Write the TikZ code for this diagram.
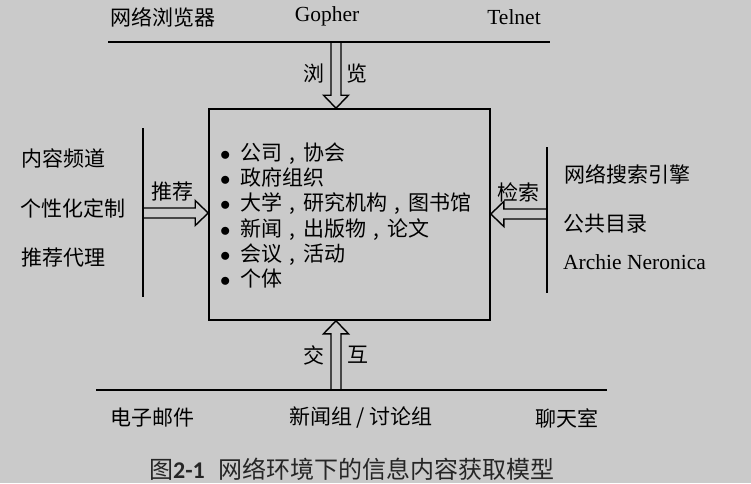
\documentclass[tikz,border=0pt]{standalone}
\usepackage{fontspec}
\setmainfont{Liberation Serif}
\newfontfamily\cjk{Noto Sans CJK SC}
\newfontfamily\capfont{Carlito}
\usetikzlibrary{calc,positioning}
\definecolor{bggray}{HTML}{CACACA}
\definecolor{capgray}{HTML}{262626}
\newcommand\zhcomma{\makebox[21pt]{,}}

\tikzset{
  zh/.style={font=\cjk\fontsize{21}{25}\selectfont, inner sep=0pt},
  en/.style={font=\fontsize{21.5}{25}\selectfont, inner sep=0pt},
  bar/.style={line width=2.6pt},
  hollow arrow/.style={line width=1.4pt, line join=miter,
    to path={($(\tikztostart)!5pt!90:(\tikztotarget)$)
      -- ($(\tikztotarget)!13pt!(\tikztostart)!5pt!90:(\tikztotarget)$)
      -- ($(\tikztotarget)!13pt!(\tikztostart)!12.5pt!90:(\tikztotarget)$)
      -- (\tikztotarget)
      -- ($(\tikztotarget)!13pt!(\tikztostart)!12.5pt!-90:(\tikztotarget)$)
      -- ($(\tikztotarget)!13pt!(\tikztostart)!5pt!-90:(\tikztotarget)$)
      -- ($(\tikztostart)!5pt!-90:(\tikztotarget)$)}},
}

\begin{document}
\begin{tikzpicture}[x=1pt,y=-1pt]
  \fill[bggray] (0,0) rectangle (751,483);
  \useasboundingbox (0,0) rectangle (751,483);

  % central box with the sources of content
  \node[draw, line width=1.6pt, minimum width=281pt, minimum height=211pt,
        inner sep=0pt] (box) at (349.5,214.5) {};
  \node[zh, anchor=west, align=left, font=\cjk\fontsize{21}{25.3}\selectfont]
    (sources) at (220,215.5)
    {\makebox[20pt][l]{$\bullet$}公司\zhcomma 协会\\
     \makebox[20pt][l]{$\bullet$}政府组织\\
     \makebox[20pt][l]{$\bullet$}大学\zhcomma 研究机构\zhcomma 图书馆\\
     \makebox[20pt][l]{$\bullet$}新闻\zhcomma 出版物\zhcomma 论文\\
     \makebox[20pt][l]{$\bullet$}会议\zhcomma 活动\\
     \makebox[20pt][l]{$\bullet$}个体};

  % top: browsing
  \coordinate (top west) at (108,42);
  \coordinate (top east) at (550,42);
  \coordinate (browse src) at (336,42);
  \coordinate (browse tip) at (box.north -| browse src);
  \draw[hollow arrow] (browse src) to (browse tip);
  \draw[bar] (top west) -- (top east);
  \node[zh, anchor=west] (web browser) at (110,17) {网络浏览器};
  \node[en] (gopher) at (327,16) {Gopher};
  \node[en] (telnet) at (514,17) {Telnet};
  \node[zh] (browse l) at (314,74) {浏};
  \node[zh] (browse r) at (357,74) {览};

  % left: recommendation
  \coordinate (left top) at (143,128);
  \coordinate (left bottom) at (143,297);
  \coordinate (rec src) at (143,213);
  \coordinate (rec tip) at (rec src -| box.west);
  \draw[hollow arrow] (rec src) to (rec tip);
  \draw[bar] (left top) -- (left bottom);
  \node[zh] (rec) at (172,192) {推荐};
  \node[zh, anchor=west] (channel) at (21,158) {内容频道};
  \node[zh, anchor=west] (custom) at (20,208) {个性化定制};
  \node[zh, anchor=west] (agent) at (21,258) {推荐代理};

  % right: retrieval
  \coordinate (right top) at (547,147);
  \coordinate (right bottom) at (547,293);
  \coordinate (ret src) at (547,214);
  \coordinate (ret tip) at (ret src -| box.east);
  \draw[hollow arrow] (ret src) to (ret tip);
  \draw[bar] (right top) -- (right bottom);
  \node[zh] (ret) at (518,192) {检索};
  \node[zh, anchor=west] (engine) at (564,174) {网络搜索引擎};
  \node[zh, anchor=west] (catalog) at (563,224) {公共目录};
  \node[en, anchor=west] (archie) at (563,262) {Archie Neronica};

  % bottom: interaction
  \coordinate (bot west) at (96,390);
  \coordinate (bot east) at (607,390);
  \coordinate (inter src) at (336,390);
  \coordinate (inter tip) at (inter src |- box.south);
  \draw[hollow arrow] (inter src) to (inter tip);
  \draw[bar] (bot west) -- (bot east);
  \node[zh] (inter l) at (314,355) {交};
  \node[zh] (inter r) at (358,355) {互};
  \node[zh] (email) at (152,418) {电子邮件};
  \node[zh] (news) at (361,418) {新闻组 / 讨论组};
  \node[zh] (chat) at (567,418) {聊天室};

  % caption
  \node[inner sep=0pt, text=capgray, font=\cjk\fontsize{24}{28}\selectfont]
    (caption) at (352,469)
    {图{\capfont\bfseries 2-1}\hspace{14pt}网络环境下的信息内容获取模型};
\end{tikzpicture}
\end{document}
